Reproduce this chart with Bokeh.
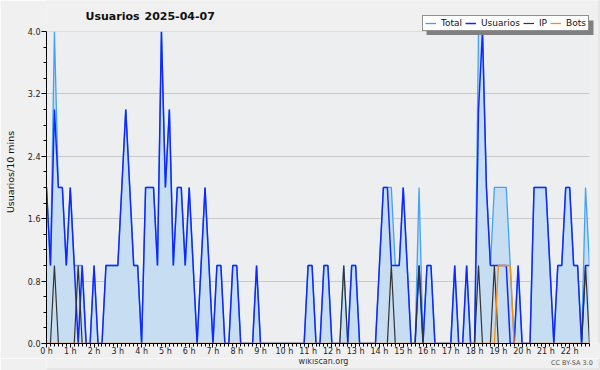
from bokeh.plotting import figure
from bokeh.layouts import column
from bokeh.models import Range1d, FixedTicker, Legend, LegendItem, Label, BoxAnnotation
from bokeh.embed import file_html
from bokeh.resources import INLINE

# 10-minute slots, 2025-04-07 (values per slot)
total = [
    2, 1, 4, 2, 2, 1, 2, 1, 1, 1,
    0, 0, 1, 0, 0, 1, 1, 1, 1, 2,
    3, 2, 1, 1, 0, 2, 2, 2, 1, 4,
    2, 3, 1, 2, 2, 1, 2, 1, 0, 1,
    2, 1, 0, 1, 1, 0, 0, 1, 1, 0,
    0, 0, 0, 1, 0, 0, 0, 0, 0, 0,
    0, 0, 0, 0, 0, 0, 1, 1, 0, 0,
    1, 1, 0, 0, 0, 1, 0, 1, 1, 0,
    0, 0, 0, 0, 1, 2, 2, 2, 1, 1,
    2, 1, 0, 0, 2, 0, 1, 1, 0, 0,
    0, 0, 0, 1, 0, 0, 1, 0, 0, 4,
    4, 2, 1, 2, 2, 2, 2, 1, 0, 1,
    0, 0, 0, 2, 2, 2, 2, 1, 0, 1,
    1, 2, 2, 1, 1, 0, 2, 1,
]
usuarios = [
    2, 1, 3, 2, 2, 1, 2, 1, 0, 1,
    0, 0, 1, 0, 0, 1, 1, 1, 1, 2,
    3, 2, 1, 1, 0, 2, 2, 2, 1, 4,
    2, 3, 1, 2, 2, 1, 2, 1, 0, 1,
    2, 1, 0, 1, 1, 0, 0, 1, 1, 0,
    0, 0, 0, 1, 0, 0, 0, 0, 0, 0,
    0, 0, 0, 0, 0, 0, 1, 1, 0, 0,
    1, 1, 0, 0, 0, 0, 0, 1, 1, 0,
    0, 0, 0, 0, 1, 2, 2, 1, 1, 1,
    2, 1, 0, 0, 1, 0, 1, 1, 0, 0,
    0, 0, 0, 1, 0, 0, 1, 0, 0, 3,
    4, 2, 1, 1, 1, 1, 1, 0, 0, 1,
    0, 0, 0, 2, 2, 2, 2, 1, 0, 1,
    1, 2, 2, 1, 1, 0, 1, 1,
]
ip = [
    0, 0, 1, 0, 0, 0, 0, 0, 1, 0,
    0, 0, 0, 0, 0, 0, 0, 0, 0, 0,
    0, 0, 0, 0, 0, 0, 0, 0, 0, 0,
    0, 0, 0, 0, 0, 0, 0, 0, 0, 0,
    0, 0, 0, 0, 0, 0, 0, 0, 0, 0,
    0, 0, 0, 0, 0, 0, 0, 0, 0, 0,
    0, 0, 0, 0, 0, 0, 0, 0, 0, 0,
    0, 0, 0, 0, 0, 1, 0, 0, 0, 0,
    0, 0, 0, 0, 0, 0, 0, 1, 0, 0,
    0, 0, 0, 0, 1, 0, 0, 0, 0, 0,
    0, 0, 0, 0, 0, 0, 0, 0, 0, 1,
    0, 0, 0, 1, 0, 0, 0, 0, 0, 0,
    0, 0, 0, 0, 0, 0, 0, 0, 0, 0,
    0, 0, 0, 0, 0, 0, 1, 0,
]
bots = [
    0, 0, 0, 0, 0, 0, 0, 0, 0, 0,
    0, 0, 0, 0, 0, 0, 0, 0, 0, 0,
    0, 0, 0, 0, 0, 0, 0, 0, 0, 0,
    0, 0, 0, 0, 0, 0, 0, 0, 0, 0,
    0, 0, 0, 0, 0, 0, 0, 0, 0, 0,
    0, 0, 0, 0, 0, 0, 0, 0, 0, 0,
    0, 0, 0, 0, 0, 0, 0, 0, 0, 0,
    0, 0, 0, 0, 0, 0, 0, 0, 0, 0,
    0, 0, 0, 0, 0, 0, 0, 0, 0, 0,
    0, 0, 0, 0, 0, 0, 0, 0, 0, 0,
    0, 0, 0, 0, 0, 0, 0, 0, 0, 0,
    0, 0, 0, 0, 1, 1, 1, 1, 0, 0,
    0, 0, 0, 0, 0, 0, 0, 0, 0, 0,
    0, 0, 0, 0, 0, 0, 0, 0,
]
hour_labels = ["0 h", "1 h", "2 h", "3 h", "4 h", "5 h", "6 h", "7 h", "8 h",
               "9 h", "10 h", "11 h", "12 h", "13 h", "14 h", "15 h", "16 h",
               "17 h", "18 h", "19 h", "20 h", "21 h", "22 h"]
y_tick_values = [0.0, 0.8, 1.6, 2.4, 3.2, 4.0]
y_tick_labels = ["0.0", "0.8", "1.6", "2.4", "3.2", "4.0"]
series_names = ["Total", "Usuarios", "IP", "Bots"]
title_metric = "Usuarios"
title_date = "2025-04-07"
y_label = "Usuarios/10 mins"
footer_site = "wikiscan.org"
footer_license = "CC BY-SA 3.0"

slots = list(range(len(total)))
slots_per_hour = 6
last = len(total) - 1
y_max = 4.0

FONT = "DejaVu Sans"
OUTER = "#f0f0f0"
PLOT_BG = "#edeef0"
EDGE = "#b0b0b0"

# frame spans x 46..600 and y 0..344 px; data 0..last maps to 46..589 and 0..4 to 344..31
x_end = last + (600 - 589) * last / (589 - 46)
y_end = y_max * 344 / (344 - 31)

p = figure(width=600, height=358, output_backend="svg", toolbar_location=None,
           x_range=Range1d(0, x_end), y_range=Range1d(0, y_end),
           min_border_left=46, min_border_right=0, min_border_top=0,
           min_border_bottom=14)
p.border_fill_color = OUTER
p.background_fill_color = PLOT_BG
p.outline_line_color = None

# area + lines
p.varea(x=slots, y1=[0] * len(total), y2=total, fill_color="#c6ddf2")
r_total = p.line(slots, total, line_color="#42a2f5", line_width=1.3)
r_usu = p.line(slots, usuarios, line_color="#1028ff", line_width=1.5)
r_ip = p.line(slots, ip, line_color="#333333", line_width=1.2)
r_bots = p.line(slots, bots, line_color="#ff8c00", line_width=1.3)

# axes
xa = p.xaxis[0]
xa.bounds = (0, last)
xa.ticker = FixedTicker(ticks=[h * slots_per_hour for h in range(len(hour_labels))],
                        minor_ticks=slots)
xa.major_label_overrides = {h * slots_per_hour: lab for h, lab in enumerate(hour_labels)}
xa.major_label_text_font = FONT
xa.major_label_text_font_size = "8px"
xa.major_label_text_color = "#222222"
xa.major_label_standoff = -1
xa.major_tick_out = 4
xa.major_tick_in = 0
xa.minor_tick_out = 3
xa.minor_tick_in = 0
xa.axis_line_color = "black"

ya = p.yaxis[0]
ya.bounds = (0, y_max)
ya.ticker = FixedTicker(ticks=y_tick_values,
                        minor_ticks=[0.2, 0.4, 0.6, 1.0, 1.2, 1.4, 1.8, 2.0, 2.2,
                                     2.6, 2.8, 3.0, 3.4, 3.6, 3.8])
ya.major_label_overrides = {v: lab for v, lab in zip(y_tick_values, y_tick_labels)}
ya.major_label_text_font = FONT
ya.major_label_text_font_size = "8px"
ya.major_label_text_color = "#222222"
ya.major_label_standoff = 1
ya.major_tick_out = 5
ya.major_tick_in = 0
ya.minor_tick_out = 3
ya.minor_tick_in = 0
ya.axis_label = y_label
ya.axis_label_text_font = FONT
ya.axis_label_text_font_style = "normal"
ya.axis_label_text_font_size = "9.5px"
ya.axis_label_text_color = "#111111"
ya.axis_label_standoff = 9

p.xgrid.grid_line_color = None
p.ygrid.grid_line_color = "#c8c8c8"
p.ygrid.grid_line_width = 1

# paint the area outside the data region with the page colour
p.add_layout(BoxAnnotation(bottom=y_max, fill_color=OUTER, fill_alpha=1, line_alpha=0))
p.add_layout(BoxAnnotation(left=last, fill_color=OUTER, fill_alpha=1, line_alpha=0))
# light border on the right edge of the picture
p.add_layout(BoxAnnotation(left=-60, right=598.5 - 46, bottom=-60, top=400,
                           left_units="screen", right_units="screen",
                           bottom_units="screen", top_units="screen",
                           fill_alpha=0, line_color=EDGE, line_width=1))

# title (two words separated by a wide gap)
title_style = dict(x_units="screen", y_units="screen", text_font=FONT,
                   text_font_style="bold", text_font_size="11px",
                   text_baseline="middle", text_color="#111111")
p.add_layout(Label(x=39, y=327.5, text=title_metric, **title_style))
p.add_layout(Label(x=98, y=327.5, text=title_date, **title_style))

# legend shadow box, then legend
p.add_layout(BoxAnnotation(left=380, right=547, top=323, bottom=308.5,
                           left_units="screen", right_units="screen",
                           bottom_units="screen", top_units="screen",
                           fill_color="#808080", fill_alpha=1, line_alpha=0))
legend = Legend(items=[LegendItem(label=n, renderers=[r])
                       for n, r in zip(series_names, [r_total, r_usu, r_ip, r_bots])],
                location=(376, 312), orientation="horizontal",
                glyph_width=11, glyph_height=10, label_height=10, label_width=1,
                label_standoff=5, spacing=3, padding=2, margin=0,
                label_text_font=FONT, label_text_font_size="9px",
                background_fill_color="white", background_fill_alpha=1,
                border_line_color="#222222", label_text_color="#111111")
p.add_layout(legend, "center")

# footer strip
f = figure(width=600, height=12, output_backend="svg", toolbar_location=None,
           x_range=Range1d(0, 600), y_range=Range1d(0, 12),
           x_axis_type=None, y_axis_type=None, min_border=0)
f.border_fill_color = OUTER
f.background_fill_color = OUTER
f.outline_line_color = None
f.xgrid.visible = False
f.ygrid.visible = False
f.add_layout(BoxAnnotation(left=-10, right=598.5, bottom=1.5, top=30,
                           fill_alpha=0, line_color=EDGE, line_width=1))
f.add_layout(Label(x=300, y=9.5, text=footer_site, text_font=FONT, text_font_size="8px",
                   text_align="center", text_baseline="middle", text_color="#333333"))
f.add_layout(Label(x=569, y=7.5, text=footer_license, text_font=FONT,
                   text_font_size="6.5px", text_align="center", text_baseline="middle",
                   text_color="#555555"))

layout = column(p, f, spacing=0)
open("out.html", "w").write(file_html(layout, INLINE))
